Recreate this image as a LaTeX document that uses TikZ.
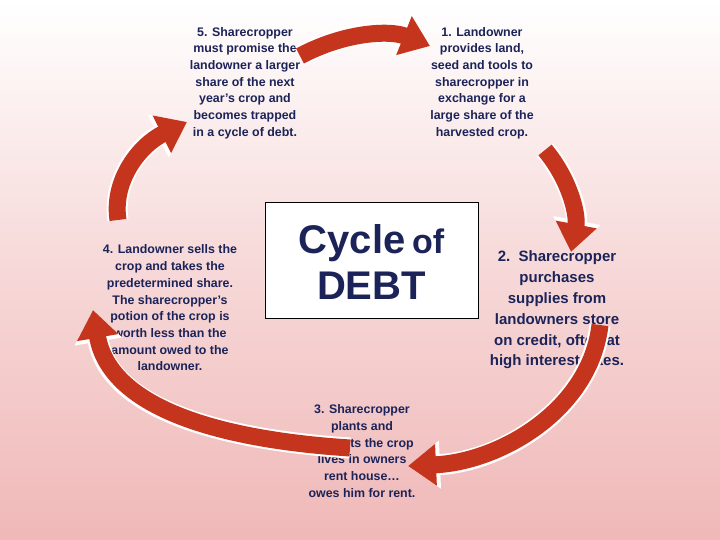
\documentclass[tikz,border=0pt]{standalone}
\usepackage{fontspec}
\setmainfont{Liberation Sans}
\usetikzlibrary{arrows.meta}
\definecolor{navy}{HTML}{1B2358}
\definecolor{arr}{HTML}{C5341C}
\definecolor{pinkbg}{HTML}{F0B8B8}
\begin{document}
\begin{tikzpicture}[x=1pt,y=-1pt,
  lbl/.style={align=center,text=navy,font=\bfseries\fontsize{12.4}{16.7}\selectfont},
  bigarrow/.style={line width=17pt,draw=arr,-{Triangle[width=40pt,length=28pt]}},
  bigback/.style={line width=21pt,draw=white,-{Triangle[width=46pt,length=32pt]}}]
\shade[top color=white,bottom color=pinkbg,middle color=pinkbg!55] (0,0) rectangle (720,540);
\useasboundingbox (0,0) rectangle (720,540);
\node[lbl] (t5) at (245,83) {5. Sharecropper\\must promise the\\landowner a larger\\share of the next\\year's crop and\\becomes trapped\\in a cycle of debt.};
\node[lbl] (t1) at (482,83) {1. Landowner\\provides land,\\seed and tools to\\sharecropper in\\exchange for a\\large share of the\\harvested crop.};
\node[lbl] (t4) at (170,308) {4. Landowner sells the\\crop and takes the\\predetermined share.\\The sharecropper's\\potion of the crop is\\worth less than the\\amount owed to the\\landowner.};
\node[lbl,font=\bfseries\fontsize{15}{20.8}\selectfont] (t2) at (557,310) {2.\ \ Sharecropper\\purchases\\supplies from\\landowners store\\on credit, often at\\high interest rates.};
\node[lbl] (t3) at (362,451) {3. Sharecropper\\plants and\\harvests the crop\\lives in owners\\rent house\dots\\owes him for rent.};
\node[draw=black,fill=white,minimum width=213pt,minimum height=116pt,line width=0.6pt] (box) at (371.5,260) {};
\node[align=center,text=navy,font=\bfseries\fontsize{40}{46}\selectfont] (title) at (371.5,262)
  {\pgfsetfillopacity{1}Cycle\,{\fontsize{34}{38}\selectfont of}\\DEBT};
\coordinate (a1s) at (300,56); \coordinate (a1e) at (430,46);
\coordinate (a2s) at (545,150); \coordinate (a2e) at (571,252);
\coordinate (a3s) at (600,325); \coordinate (a3e) at (408,466);
\coordinate (a4s) at (350,448); \coordinate (a4e) at (93,310);
\coordinate (a5s) at (118,220); \coordinate (a5e) at (187,122);
\foreach \s in {bigback,bigarrow}{
 \draw[\s] (a1s) .. controls (345,32) and (390,30) .. (a1e);
 \draw[\s] (a2s) .. controls (570,180) and (578,215) .. (a2e);
 \draw[\s] (a3s) .. controls (590,410) and (500,462) .. (a3e);
 \draw[\s] (a4s) .. controls (225,440) and (110,410) .. (a4e);
 \draw[\s] (a5s) .. controls (112,180) and (140,145) .. (a5e);
}
\end{tikzpicture}
\end{document}
